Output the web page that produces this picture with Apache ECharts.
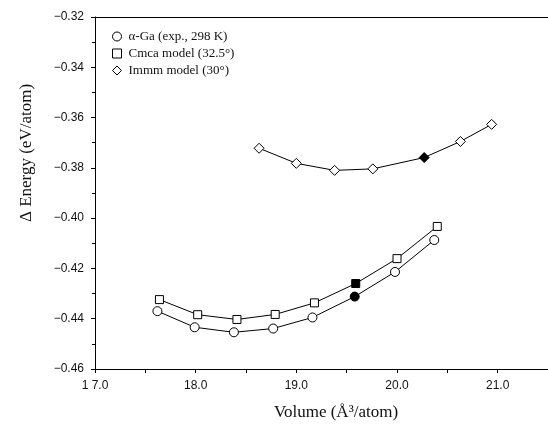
<!DOCTYPE html>
<html>
<head>
<meta charset="utf-8">
<script src="https://cdn.jsdelivr.net/npm/echarts@6/dist/echarts.min.js"></script>
<style>
  html, body { margin: 0; padding: 0; background: #fff; }
  #main { width: 548px; height: 427px; }
</style>
</head>
<body>
<div id="main"></div>
<script>
// series names
const seriesNames = ['α-Ga (exp., 298 K)', 'Cmca model (32.5°)', 'Immm model (30°)'];

// volume (A^3/atom) and energy (eV/atom)
const alphaX = [17.62, 17.99, 18.38, 18.77, 19.16, 19.58, 19.98, 20.37];
const alphaY = [-0.4370, -0.4434, -0.4454, -0.4439, -0.4395, -0.4312, -0.4214, -0.4087];
const cmcaX = [17.64, 18.02, 18.41, 18.79, 19.18, 19.59, 20.00, 20.40];
const cmcaY = [-0.4324, -0.4384, -0.4403, -0.4383, -0.4337, -0.4260, -0.4161, -0.4033];
const immmX = [18.63, 19.00, 19.38, 19.76, 20.27, 20.63, 20.94];
const immmY = [-0.3722, -0.3782, -0.3810, -0.3804, -0.3759, -0.3695, -0.3627];

// index of the filled (black) marker in each series
const filledIdx = [5, 5, 4];

// tick labels
const xTicks = [17, 18, 19, 20, 21];
const xTickLabels = ['1 7.0', '18.0', '19.0', '20.0', '21.0'];
const yTicks = [-0.46, -0.44, -0.42, -0.40, -0.38, -0.36, -0.34, -0.32];
const yTickLabels = ['\u22120.46', '\u22120.44', '\u22120.42', '\u22120.40', '\u22120.38', '\u22120.36', '\u22120.34', '\u22120.32'];

const chart = echarts.init(document.getElementById('main'), null, { renderer: 'canvas' });

function makeData(xs, ys, filled) {
  return xs.map(function (x, i) {
    const item = { value: [x, ys[i]] };
    if (i === filled) {
      item.itemStyle = { color: '#000' };
    }
    return item;
  });
}

function makeSeries(name, symbol, size, xs, ys, filled) {
  return {
    name: name,
    type: 'line',
    symbol: symbol,
    symbolSize: size,
    showAllSymbol: true,
    animation: false,
    lineStyle: { color: '#000', width: 1 },
    itemStyle: { color: '#fff', borderColor: '#000', borderWidth: 1 },
    data: makeData(xs, ys, filled)
  };
}

const axisFont = { fontFamily: 'Liberation Sans', fontSize: 12, color: '#111' };

var option = {
  backgroundColor: '#fff',
  animation: false,
  grid: { left: 95, top: 17, bottom: 58, right: -6 },
  legend: {
    orient: 'vertical',
    left: 107,
    top: 25,
    itemWidth: 9,
    itemHeight: 9,
    itemGap: 4,
    selectedMode: false,
    itemStyle: { color: '#fff', borderColor: '#000', borderWidth: 1 },
    lineStyle: { width: 0 },
    textStyle: { fontFamily: 'Liberation Serif', fontSize: 13, color: '#111', padding: [0, 0, 0, 2] },
    data: [
      { name: seriesNames[0], icon: 'circle' },
      { name: seriesNames[1], icon: 'rect' },
      { name: seriesNames[2], icon: 'diamond' }
    ]
  },
  xAxis: [
    {
      type: 'value',
      min: 17,
      max: 21.5,
      interval: 1,
      axisLine: { lineStyle: { color: '#000', width: 1 } },
      axisTick: { show: true, length: 4, lineStyle: { color: '#000' } },
      minorTick: { show: true, splitNumber: 2, length: 4, lineStyle: { color: '#000' } },
      splitLine: { show: false },
      axisLabel: Object.assign({
        margin: 11,
        showMaxLabel: false,
        formatter: function (v) {
          const i = xTicks.indexOf(Math.round(v * 100) / 100);
          return i >= 0 ? xTickLabels[i] : '';
        }
      }, axisFont)
    },
    {
      type: 'value',
      position: 'top',
      min: 17,
      max: 21.5,
      axisLine: { show: true, lineStyle: { color: '#000', width: 1 } },
      axisTick: { show: false },
      axisLabel: { show: false },
      splitLine: { show: false }
    }
  ],
  yAxis: {
    type: 'value',
    min: -0.46,
    max: -0.32,
    interval: 0.02,
    axisLine: { show: true, lineStyle: { color: '#000', width: 1 } },
    axisTick: { show: true, length: 4, lineStyle: { color: '#000' } },
    minorTick: { show: true, splitNumber: 2, length: 3, lineStyle: { color: '#000' } },
    splitLine: { show: false },
    axisLabel: Object.assign({
      margin: 11,
      formatter: function (v) {
        const i = yTicks.findIndex(function (t) { return Math.abs(t - v) < 1e-6; });
        return i >= 0 ? yTickLabels[i] : '';
      }
    }, axisFont)
  },
  graphic: [
    {
      type: 'text',
      x: 27,
      y: 153,
      rotation: Math.PI / 2,
      style: {
        text: '\u0394 Energy (eV/atom)',
        fontFamily: 'Liberation Serif',
        fontSize: 17,
        fill: '#111',
        align: 'center',
        verticalAlign: 'middle'
      }
    },
    {
      type: 'text',
      x: 336,
      y: 413,
      style: {
        text: 'Volume (\u00C5\u00B3/atom)',
        fontFamily: 'Liberation Serif',
        fontSize: 17,
        fill: '#111',
        align: 'center',
        verticalAlign: 'middle'
      }
    }
  ],
  series: [
    makeSeries(seriesNames[0], 'circle', 9, alphaX, alphaY, filledIdx[0]),
    makeSeries(seriesNames[1], 'rect', 8, cmcaX, cmcaY, filledIdx[1]),
    makeSeries(seriesNames[2], 'diamond', 10, immmX, immmY, filledIdx[2])
  ]
};

chart.setOption(option);
</script>
</body>
</html>
